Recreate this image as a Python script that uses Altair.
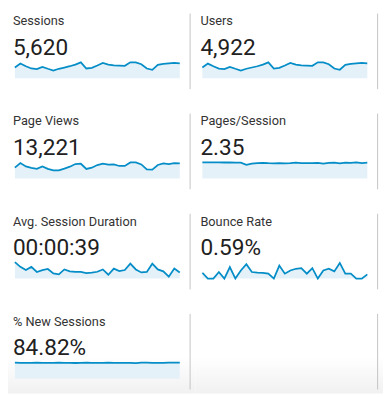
import altair as alt
import pandas as pd

days = list(range(1, 32))

titles = ["Sessions", "Users", "Page Views", "Pages/Session",
          "Avg. Session Duration", "Bounce Rate", "% New Sessions"]
totals = ["5,620", "4,922", "13,221", "2.35", "00:00:39", "0.59%", "84.82%"]

sessions = [157, 215, 176, 143, 133, 167, 139, 114, 139, 157, 176, 200, 233, 143, 153, 186,
            225, 200, 190, 186, 182, 233, 233, 205, 143, 124, 196, 210, 219, 225, 219]
users = [138, 188, 154, 125, 117, 146, 122, 100, 122, 138, 154, 175, 204, 125, 134, 163,
         197, 175, 166, 163, 159, 204, 204, 180, 125, 109, 172, 184, 192, 197, 192]
page_views = [370, 529, 414, 360, 327, 414, 327, 279, 279, 337, 404, 495, 505, 327, 370, 461,
              505, 471, 481, 428, 428, 549, 549, 481, 313, 303, 461, 515, 495, 529, 515]
pages_per_session = [2.40, 2.40, 2.40, 2.40, 2.39, 2.40, 2.38, 2.36, 2.05, 2.22, 2.30, 2.33,
                     2.28, 2.27, 2.30, 2.25, 2.30, 2.38, 2.30, 2.28, 2.30, 2.32, 2.22, 2.35,
                     2.38, 2.25, 2.38, 2.32, 2.40, 2.30, 2.36]
avg_duration = [77, 55, 40, 55, 31, 40, 45, 24, 20, 43, 34, 31, 31, 26, 28, 32,
                43, 18, 47, 35, 40, 70, 43, 29, 31, 70, 43, 34, 9, 47, 29]
bounce_rate = [0.56, 0.0, 0.0, 0.63, 0.0, 1.10, 0.0, 0.78, 1.38, 0.63, 0.56, 0.54, 0.47, 0.0,
               1.25, 0.47, 0.78, 0.94, 1.00, 0.47, 1.00, 0.0, 0.78, 0.94, 0.69, 1.50, 0.47,
               0.47, 0.0, 0.0, 0.40]
new_sessions = [85.4, 84.9, 84.3, 84.6, 85.3, 84.8, 84.2, 84.7, 85.4, 84.9, 84.4, 83.8, 84.6,
                85.5, 84.9, 84.3, 84.8, 85.3, 84.7, 84.4, 84.9, 84.5, 83.4, 85.6, 85.2, 84.6,
                84.2, 84.8, 85.5, 85.3, 85.4]

series = [sessions, users, page_views, pages_per_session, avg_duration, bounce_rate, new_sessions]
domain_max = [243, 213, 573, 2.5, 78.4, 1.6, 89]

W = 191
LINE = "#058DC7"
FILL = "#e5f1f9"
FONT = "Roboto"


def one(**kw):
    d = {"k": [0]}
    for key, val in kw.items():
        d[key] = [val]
    return pd.DataFrame(d)


def panel(i, h, last=False):
    layers = []
    if last:
        grad = alt.Gradient(
            gradient="linear",
            stops=[alt.GradientStop(color="#ffffff", offset=0),
                   alt.GradientStop(color="#f1f1f1", offset=1)],
            x1=0, x2=0, y1=0, y2=1,
        )
        layers.append(
            alt.Chart(one()).mark_rect(color=grad).encode(
                x=alt.value(0), x2=alt.value(W), y=alt.value(46), y2=alt.value(h)
            )
        )
    layers.append(
        alt.Chart(one()).mark_rule(color="#c4c4c4", strokeWidth=1).encode(
            x=alt.value(185.5), y=alt.value(2), y2=alt.value(79)
        )
    )
    if i is not None:
        df = pd.DataFrame({"day": days, "v": series[i]})
        xs = alt.X("day:Q", scale=alt.Scale(domain=[1, 31], range=[7, 175]), axis=None)
        ys = alt.Y("v:Q", scale=alt.Scale(domain=[0, domain_max[i]], range=[68, 51], nice=False),
                   axis=None)
        base = alt.Chart(df).encode(x=xs, y=ys)
        layers.append(base.mark_area(color=FILL))
        layers.append(base.mark_line(color=LINE, strokeWidth=1.8))
        layers.append(
            alt.Chart(one(t=titles[i])).mark_text(
                align="left", baseline="alphabetic", font=FONT, fontSize=13, color="#333333"
            ).encode(text="t:N", x=alt.value(5), y=alt.value(14))
        )
        layers.append(
            alt.Chart(one(t=totals[i])).mark_text(
                align="left", baseline="alphabetic", font=FONT, fontSize=23, color="#212121"
            ).encode(text="t:N", x=alt.value(5), y=alt.value(44))
        )
    return alt.layer(*layers).properties(width=W, height=h)


rows = []
grid = [(0, 1), (2, 3), (4, 5), (6, None)]
for r, (a, b) in enumerate(grid):
    last = r == 3
    h = 83 if last else 102
    rows.append(alt.hconcat(panel(a, h, last), panel(b, h, last), spacing=0))

chart = alt.vconcat(*rows, spacing=0).properties(padding=0).configure_view(stroke=None)

chart.save("out.html", embed_options={"renderer": "svg", "actions": False})
